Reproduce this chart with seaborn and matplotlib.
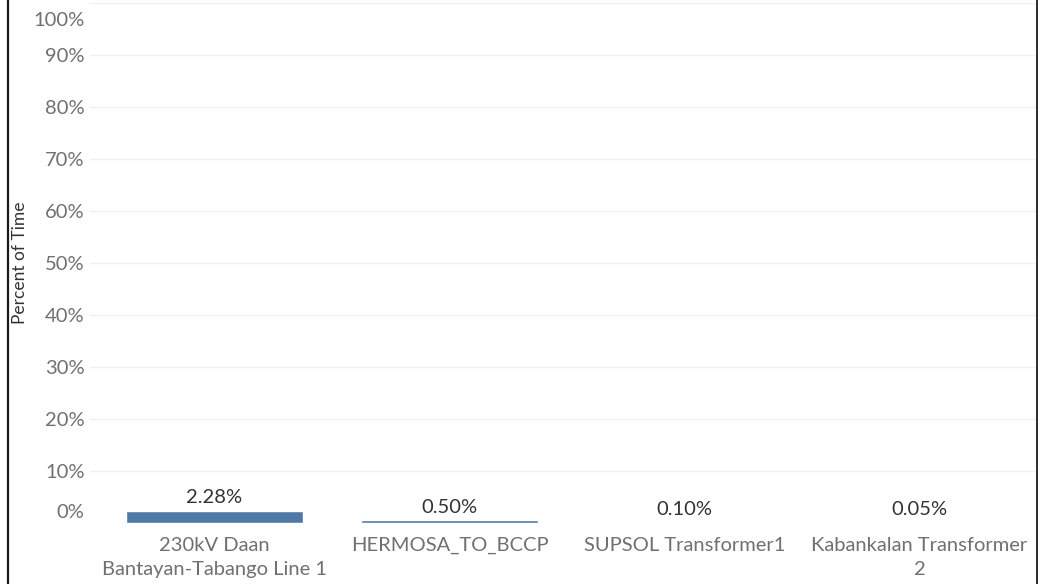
import matplotlib
matplotlib.use("Agg")
import matplotlib.pyplot as plt
import matplotlib.transforms as mtransforms
from matplotlib.lines import Line2D
import pandas as pd
import seaborn as sns

# chart data
categories = ["230kV Daan\nBantayan-Tabango Line 1", "HERMOSA_TO_BCCP",
              "SUPSOL Transformer1", "Kabankalan Transformer\n2"]
percent_of_time = [2.28, 0.50, 0.10, 0.05]
y_ticks = list(range(0, 101, 10))

df = pd.DataFrame({"Line": categories, "Percent": percent_of_time})

sns.set_theme(style="white")
plt.rcParams["font.family"] = ["Lato", "DejaVu Sans"]

W, H = 1048, 584
fig = plt.figure(figsize=(W / 100, H / 100), dpi=100)
left, right, top, bottom = 90, 1037, 2.5, 522.5
ax = fig.add_axes([left / W, (H - bottom) / H, (right - left) / W, (bottom - top) / H])

sns.barplot(data=df, x="Line", y="Percent", color="#4e79a7", width=0.75,
            saturation=1, ax=ax)

ax.set_xlim(-0.5 - 7 / 235, 3.5)
ax.set_ylim(0, 100)
ax.set_yticks(y_ticks)
ax.set_yticklabels([f"{t}%" for t in y_ticks])
for s in ax.spines.values():
    s.set_visible(False)

ax.yaxis.grid(True, color="#f0f0f0", linewidth=1)
ax.set_axisbelow(True)
ax.tick_params(axis="y", length=0, pad=4, labelsize=14.5, labelcolor="#707070")
ax.tick_params(axis="x", which="major", length=0, pad=10.5, labelsize=14.5, labelcolor="#707070")
for lab in ax.get_xticklabels():
    lab.set_linespacing(1.5)
ax.set_xticks([-0.5, 0.5, 1.5, 2.5], minor=True)
ax.tick_params(axis="x", which="minor", length=6.5, width=1, color="#e6e6e6", direction="out")

# keep end labels inside the view like the original
labels = ax.get_yticklabels()
labels[0].set_transform(labels[0].get_transform() + mtransforms.ScaledTranslation(0, 11 / 100, fig.dpi_scale_trans))
labels[-1].set_transform(labels[-1].get_transform() + mtransforms.ScaledTranslation(0, -16 / 100, fig.dpi_scale_trans))

ax.set_xlabel("")
ax.set_ylabel("Percent of Time", fontsize=12.5, color="#333333")
ax.yaxis.set_label_coords(-(left - 28) / (right - left), 0.5)

ax.bar_label(ax.containers[0], labels=[f"{v:.2f}%" for v in percent_of_time],
             padding=3, fontsize=14.5, color="#333333")

# dashboard borders
fig.add_artist(Line2D([7.5 / W, 7.5 / W], [0, 1], color="#1a1a1a", linewidth=1.6))
fig.add_artist(Line2D([1037 / W, 1037 / W], [0, 1], color="#1a1a1a", linewidth=1.3))

fig.savefig("out.png", dpi=100)
